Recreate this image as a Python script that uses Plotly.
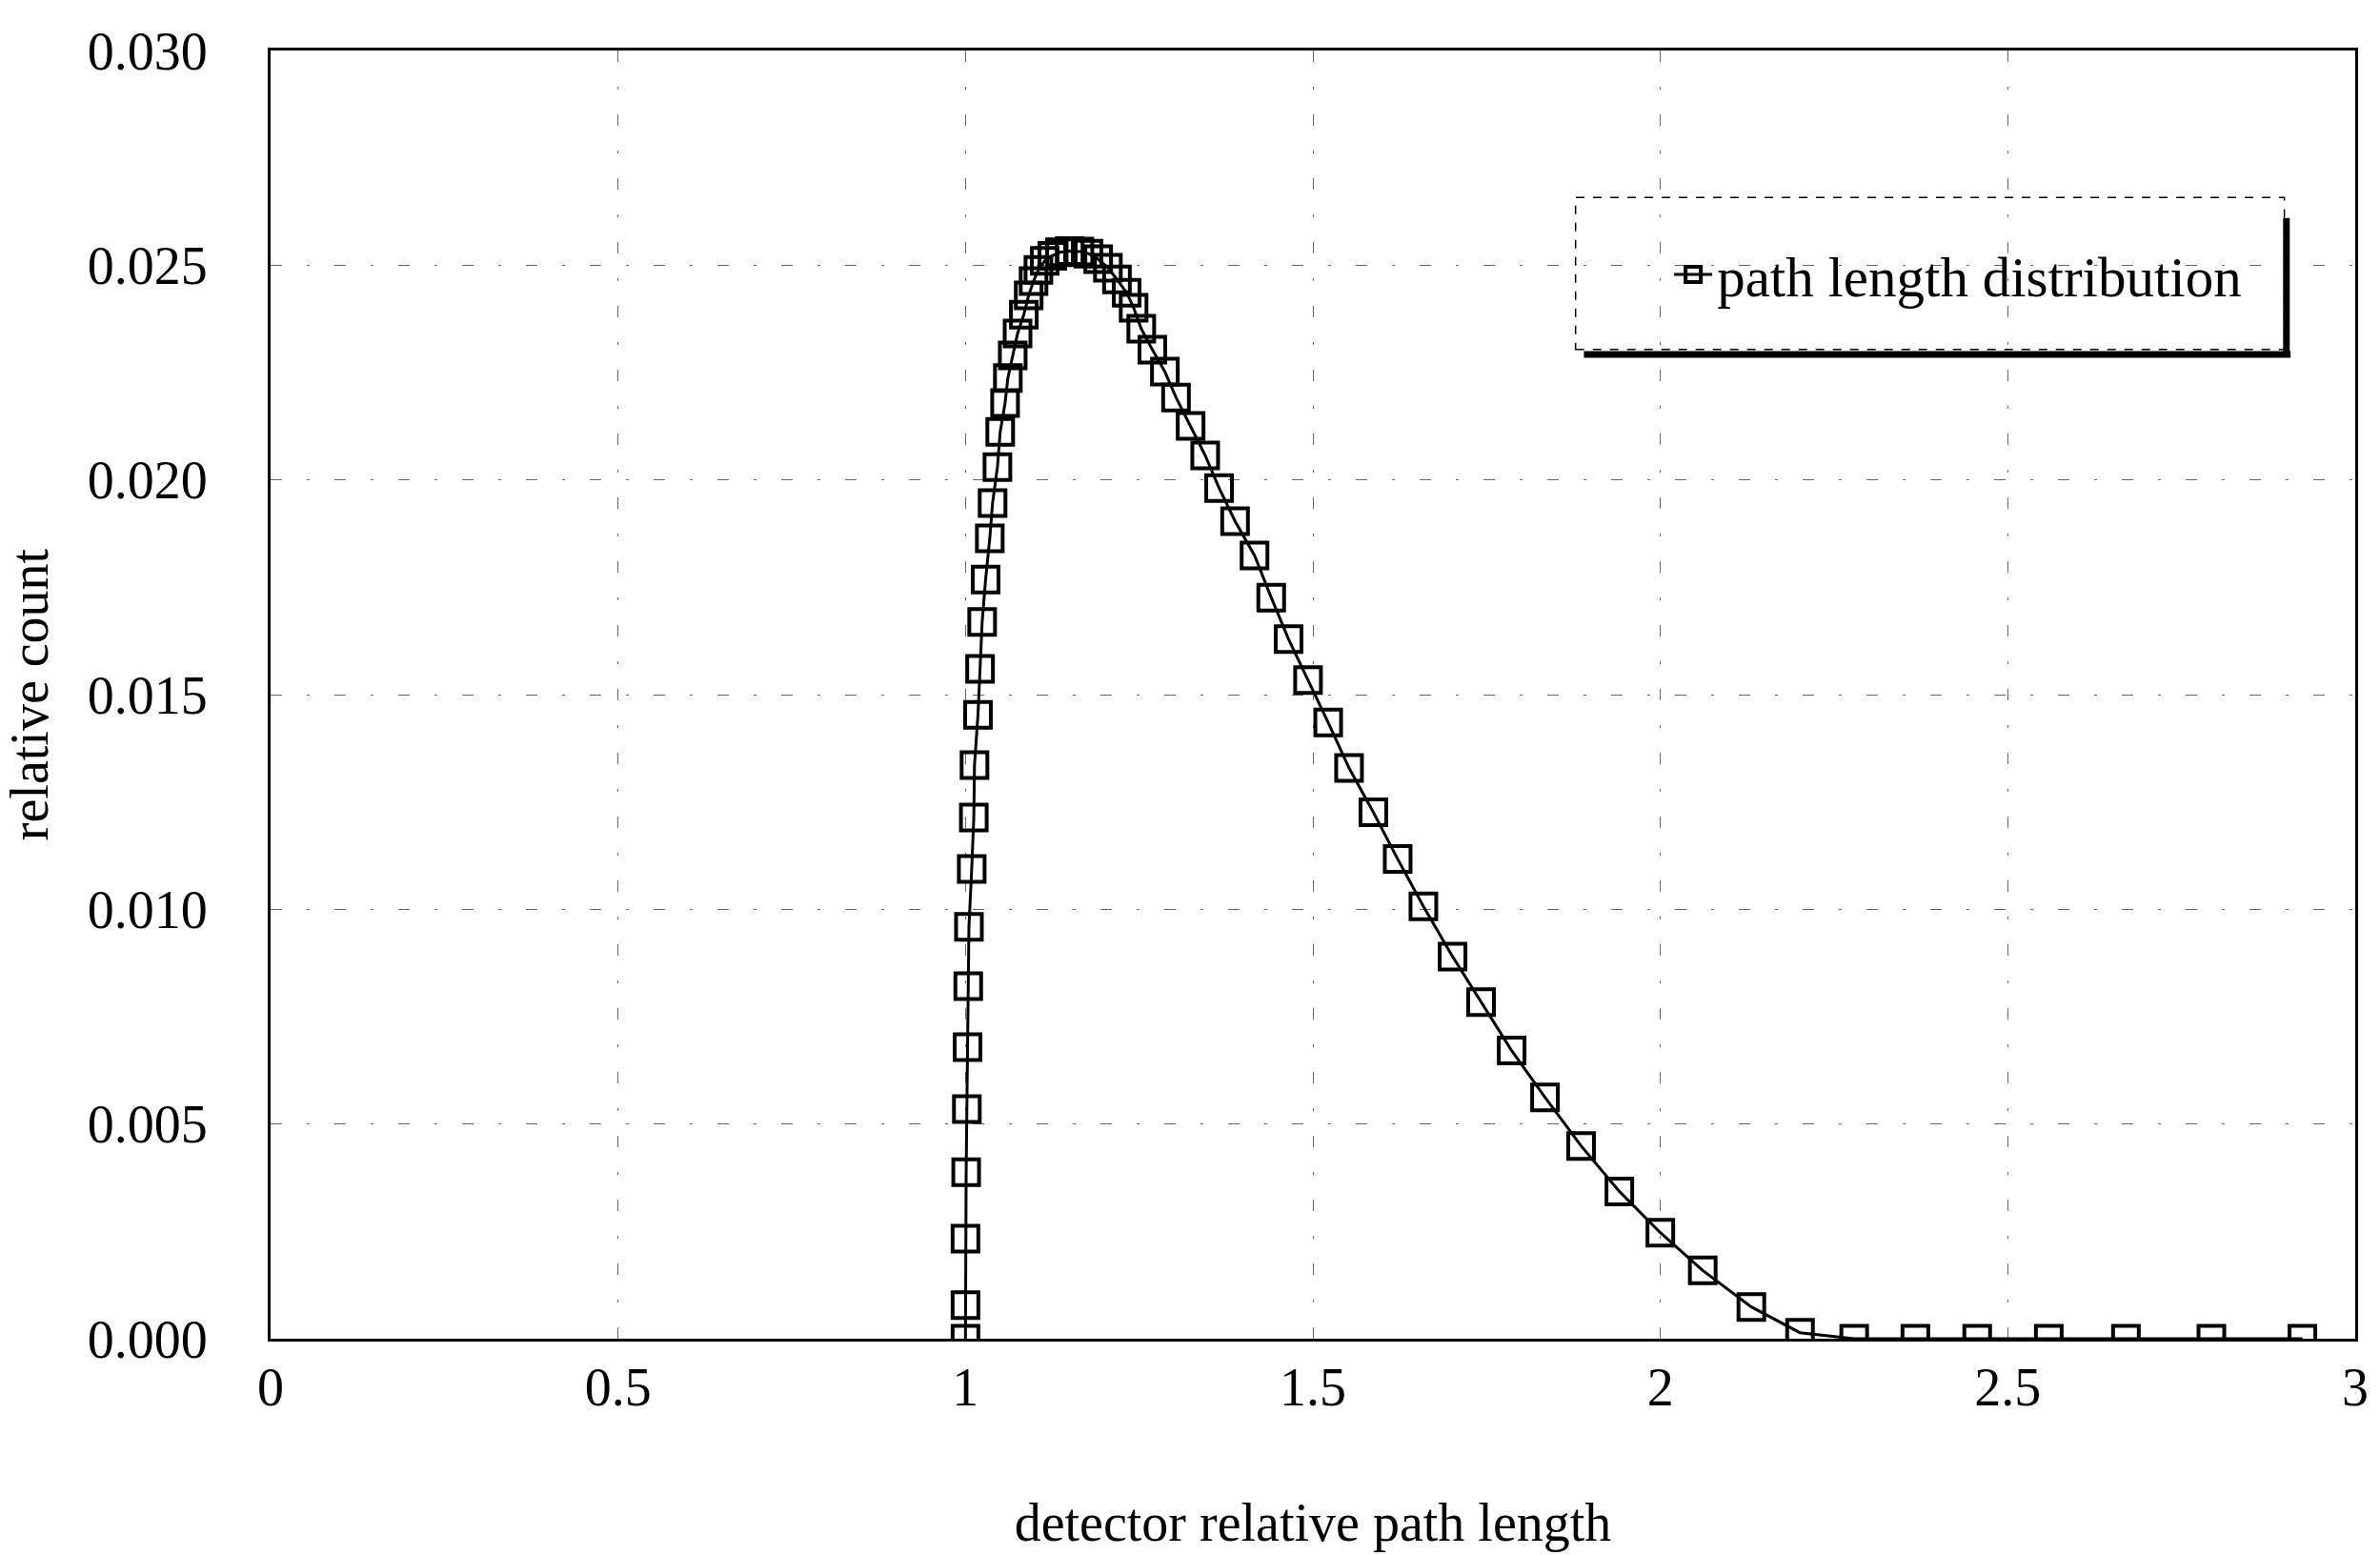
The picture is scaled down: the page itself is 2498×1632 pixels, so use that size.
import plotly.graph_objects as go

# detector relative path length (x) and relative count (y)
path_length = [
    1.000, 1.000, 1.000, 1.001, 1.002, 1.003, 1.004, 1.005, 1.009, 1.012,
    1.013, 1.018, 1.021, 1.024, 1.029, 1.035, 1.039, 1.046, 1.050, 1.057,
    1.061, 1.068, 1.075, 1.084, 1.091, 1.098, 1.105, 1.114, 1.125, 1.136,
    1.150, 1.164, 1.177, 1.191, 1.205, 1.218, 1.232, 1.242, 1.253, 1.269,
    1.287, 1.303, 1.324, 1.345, 1.365, 1.388, 1.416, 1.440, 1.465, 1.493,
    1.522, 1.552, 1.587, 1.622, 1.659, 1.701, 1.742, 1.786, 1.834, 1.886,
    1.941, 2.000, 2.061, 2.131, 2.201, 2.279, 2.367, 2.456, 2.559, 2.670,
    2.793, 2.924,
]
relative_count = [
    0.00000, 0.00078, 0.00233, 0.00388, 0.00535, 0.00679, 0.00821, 0.00959, 0.01094, 0.01214,
    0.01336, 0.01453, 0.01560, 0.01669, 0.01768, 0.01864, 0.01946, 0.02030, 0.02112, 0.02179,
    0.02237, 0.02290, 0.02341, 0.02385, 0.02430, 0.02463, 0.02489, 0.02510, 0.02522, 0.02530,
    0.02533, 0.02532, 0.02527, 0.02514, 0.02494, 0.02467, 0.02436, 0.02401, 0.02352, 0.02303,
    0.02252, 0.02192, 0.02126, 0.02057, 0.01981, 0.01904, 0.01824, 0.01726, 0.01629, 0.01534,
    0.01435, 0.01329, 0.01226, 0.01117, 0.01007, 0.00890, 0.00784, 0.00671, 0.00562, 0.00449,
    0.00343, 0.00247, 0.00159, 0.00074, 0.00014, 0.00000, 0.00000, 0.00000, 0.00000, 0.00000,
    0.00000, 0.00000,
]

series_name = "path length distribution"
x_title = "detector relative path length"
y_title = "relative count"
x_ticks = [0, 0.5, 1, 1.5, 2, 2.5, 3]
x_tick_text = ["0", "0.5", "1", "1.5", "2", "2.5", "3"]
y_ticks = [0.000, 0.005, 0.010, 0.015, 0.020, 0.025, 0.030]
y_tick_text = ["0.000", "0.005", "0.010", "0.015", "0.020", "0.025", "0.030"]

FONT = "Liberation Serif, Times New Roman, serif"
FS = 56

fig = go.Figure()
fig.add_trace(go.Scatter(
    x=path_length, y=relative_count, mode="lines+markers", name=series_name,
    line=dict(color="black", width=3),
    marker=dict(symbol="square-open", size=27, color="black", line=dict(width=4, color="black")),
))

grid = dict(showgrid=True, gridcolor="#666666", gridwidth=1, griddash="12px,26px,3px,26px")

fig.update_xaxes(
    range=[0, 3], tickvals=x_ticks, ticktext=x_tick_text,
    showline=True, linecolor="black", linewidth=3, mirror=True,
    zeroline=False, ticks="", ticklabelstandoff=0,
    title=dict(text=x_title, standoff=92, font=dict(size=FS, family=FONT, color="black")),
    tickfont=dict(size=FS, family=FONT, color="black"), **grid,
)
fig.update_yaxes(
    range=[0, 0.030], tickvals=y_ticks, ticktext=y_tick_text,
    showline=True, linecolor="black", linewidth=3, mirror=True,
    zeroline=False, ticks="", ticklabelstandoff=52,
    title=dict(text=y_title, standoff=36, font=dict(size=FS, family=FONT, color="black")),
    tickfont=dict(size=FS, family=FONT, color="black"), **grid,
)

# legend frame with drop shadow (paper coordinates)
shapes = [
    dict(type="rect", xref="paper", yref="paper", x0=0.626, x1=0.966, y0=0.768, y1=0.886,
         line=dict(color="black", width=1.5, dash="dash"), fillcolor="white", layer="below"),
    dict(type="line", xref="paper", yref="paper", x0=0.630, x1=0.969, y0=0.764, y1=0.764,
         line=dict(color="black", width=7)),
    dict(type="line", xref="paper", yref="paper", x0=0.967, x1=0.967, y0=0.764, y1=0.870,
         line=dict(color="black", width=7)),
]

fig.update_layout(
    width=2498, height=1632,
    margin=dict(l=284, r=21, t=53, b=227),
    paper_bgcolor="white", plot_bgcolor="white",
    font=dict(family=FONT, color="black"),
    showlegend=True,
    legend=dict(x=0.671, y=0.826, xanchor="left", yanchor="middle",
                bgcolor="rgba(0,0,0,0)", borderwidth=0,
                font=dict(size=59, family=FONT, color="black"),
                itemwidth=40),
    shapes=shapes,
)

fig.write_html("out.html")
